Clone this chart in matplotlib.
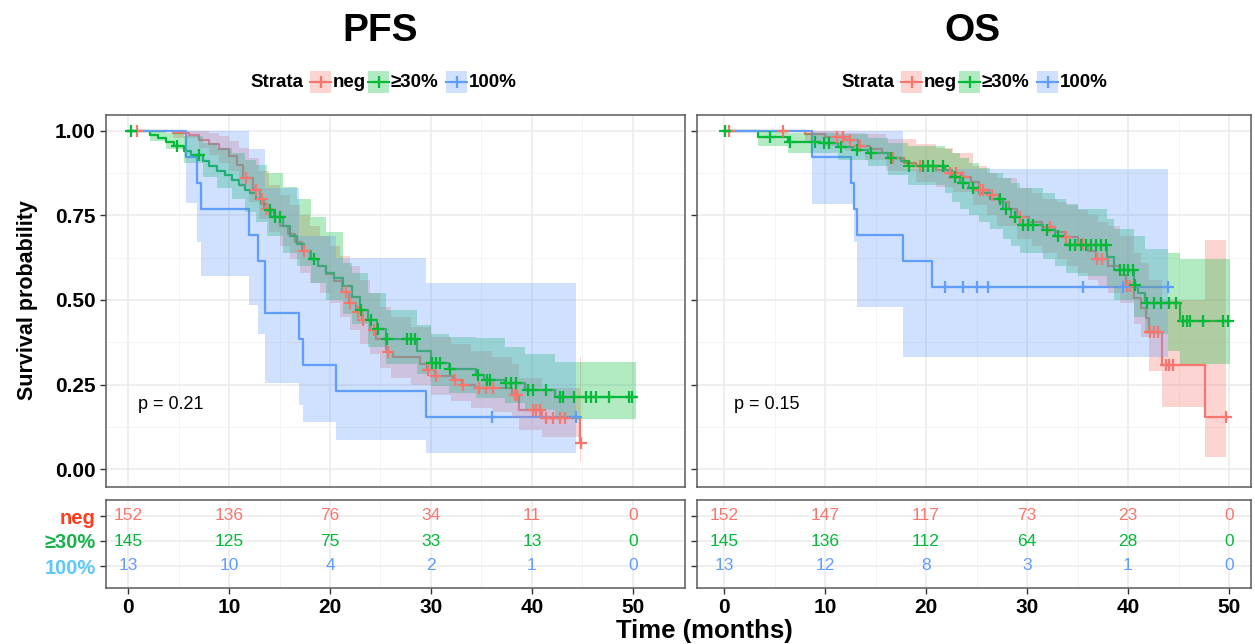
import numpy as np
import matplotlib
matplotlib.use('Agg')
import matplotlib.pyplot as plt
from matplotlib.patches import Rectangle
from matplotlib.lines import Line2D
from matplotlib import font_manager

plt.rcParams['font.family'] = ['Liberation Sans', 'DejaVu Sans']

# narrow face for tick labels and risk numbers, if it is there
names = {f.name for f in font_manager.fontManager.ttflist}
NARROW = 'Liberation Sans Narrow' in names
NFAM = ['Liberation Sans Narrow', 'Liberation Sans'] if NARROW else ['Liberation Sans']

RED = '#F8766D'
GREEN = '#00BA38'
BLUE = '#619CFF'

# ---------------- PFS data ----------------
pfs_neg_t = [0, 4.5, 6.0, 7.0, 8.0, 9.0, 10.0, 10.8, 11.4, 12.4, 13.1, 13.5, 14.2, 15.0, 15.8, 16.5,
             17.2, 18.0, 18.8, 19.6, 20.4, 21.2, 21.9, 22.6, 23.2, 24.0, 24.6, 25.5, 26.2, 28.9, 29.6,
             30.4, 32.2, 33.1, 34.4, 38.0, 38.7, 41.0, 44.8]
pfs_neg_s = [1.0, 0.993, 0.987, 0.974, 0.96, 0.945, 0.925, 0.9, 0.86, 0.825, 0.80, 0.77, 0.745, 0.72,
             0.695, 0.67, 0.645, 0.62, 0.60, 0.578, 0.555, 0.525, 0.49, 0.465, 0.44, 0.41, 0.385, 0.345,
             0.33, 0.31, 0.293, 0.275, 0.262, 0.248, 0.24, 0.218, 0.175, 0.152, 0.077]
pfs_neg_end = 44.9
pfs_neg_cens = [0.9, 11.7, 12.7, 13.3, 13.8, 17.4, 21.6, 22.0, 22.8, 23.3, 24.4, 25.7, 29.7, 30.5, 32.4,
                33.2, 34.8, 35.4, 36.1, 38.3, 38.5, 40.1, 40.4, 40.8, 41.4, 42.1, 42.8, 43.3, 44.9]
pfs_neg_band_t = [0, 4.5, 7, 8, 9, 10, 11, 12, 13, 14, 15, 16, 17, 18, 19, 20, 21, 22, 23, 24, 25, 26,
                  28, 30, 32, 34, 36, 38, 38.7, 41, 44.8]
pfs_neg_lo = [1.0, 0.98, 0.95, 0.93, 0.905, 0.88, 0.835, 0.79, 0.74, 0.70, 0.66, 0.62, 0.58, 0.55, 0.52,
              0.49, 0.45, 0.41, 0.37, 0.34, 0.30, 0.27, 0.25, 0.22, 0.20, 0.18, 0.17, 0.15, 0.115, 0.095,
              0.02]
pfs_neg_hi = [1.0, 1.0, 1.0, 0.995, 0.985, 0.97, 0.95, 0.92, 0.88, 0.84, 0.81, 0.78, 0.75, 0.72, 0.69,
              0.66, 0.63, 0.60, 0.56, 0.52, 0.48, 0.45, 0.42, 0.39, 0.37, 0.35, 0.33, 0.31, 0.27, 0.24,
              0.33]

pfs_pos_t = [0, 2.2, 3.0, 3.8, 4.6, 5.5, 6.2, 7.4, 8.0, 8.8, 9.6, 10.3, 11.0, 11.6, 12.1, 12.7, 13.2,
             13.8, 14.5, 15.3, 16.0, 16.7, 17.4, 18.1, 18.8, 19.6, 20.4, 21.3, 22.2, 23.0, 23.8, 24.7,
             25.5, 28.6, 30.0, 31.8, 34.5, 35.2, 37.3, 39.3, 42.3]
pfs_pos_s = [1.0, 0.988, 0.978, 0.968, 0.955, 0.94, 0.93, 0.91, 0.895, 0.88, 0.87, 0.855, 0.84, 0.825,
             0.815, 0.80, 0.785, 0.765, 0.745, 0.72, 0.69, 0.665, 0.645, 0.62, 0.60, 0.58, 0.565, 0.54,
             0.51, 0.47, 0.44, 0.415, 0.385, 0.35, 0.315, 0.295, 0.278, 0.263, 0.254, 0.234, 0.213]
pfs_pos_end = 50.3
pfs_pos_cens = [0.3, 4.9, 7.0, 14.1, 14.6, 15.0, 18.4, 23.1, 24.1, 24.8, 25.6, 27.6, 28.0, 28.4, 30.1,
                30.5, 30.9, 31.9, 34.7, 35.5, 35.8, 37.4, 37.9, 38.4, 39.6, 40.1, 41.4, 42.8, 43.1, 44.2,
                45.3, 45.8, 46.3, 47.6, 49.6, 49.9]
pfs_pos_band_t = [0, 2.2, 3.8, 5.5, 7.4, 8.8, 10.3, 11.6, 12.7, 13.8, 15.3, 16.7, 18.1, 19.6, 21.3,
                  22.2, 23.8, 25.5, 28.6, 30.0, 31.8, 34.5, 37.3, 39.3, 42.3]
pfs_pos_lo = [1.0, 0.97, 0.945, 0.905, 0.865, 0.83, 0.80, 0.76, 0.73, 0.69, 0.64, 0.60, 0.55, 0.50, 0.46,
              0.43, 0.36, 0.31, 0.28, 0.245, 0.225, 0.21, 0.195, 0.175, 0.148]
pfs_pos_hi = [1.0, 1.0, 0.995, 0.985, 0.965, 0.95, 0.935, 0.915, 0.90, 0.875, 0.835, 0.80, 0.745, 0.70,
              0.61, 0.58, 0.52, 0.47, 0.426, 0.40, 0.39, 0.388, 0.36, 0.34, 0.317]

pfs_all_t = [0, 5.7, 6.8, 7.2, 12.0, 12.9, 13.6, 16.9, 17.3, 20.6, 29.5]
pfs_all_s = [1.0, 0.923, 0.846, 0.769, 0.692, 0.615, 0.462, 0.385, 0.308, 0.231, 0.154]
pfs_all_end = 44.4
pfs_all_cens = [36.0, 44.4]
pfs_all_band_t = pfs_all_t
pfs_all_lo = [1.0, 0.787, 0.67, 0.57, 0.485, 0.40, 0.255, 0.19, 0.14, 0.086, 0.048]
pfs_all_hi = [1.0, 1.0, 1.0, 1.0, 0.947, 0.947, 0.83, 0.69, 0.69, 0.624, 0.55]

# ---------------- OS data ----------------
os_neg_t = [0, 8.0, 10.0, 12.0, 13.3, 14.5, 15.6, 16.5, 17.8, 19.0, 21.0, 22.2, 23.5, 24.5, 25.2, 26.2,
            27.2, 28.2, 29.0, 30.2, 31.5, 32.8, 33.8, 35.0, 36.0, 36.8, 38.0, 39.2, 39.8, 40.6, 41.3,
            41.8, 42.1, 43.4, 47.6]
os_neg_s = [1.0, 0.99, 0.982, 0.973, 0.955, 0.945, 0.935, 0.92, 0.905, 0.895, 0.885, 0.875, 0.865, 0.85,
            0.825, 0.81, 0.79, 0.77, 0.745, 0.73, 0.717, 0.70, 0.687, 0.665, 0.645, 0.62, 0.60, 0.575,
            0.54, 0.506, 0.476, 0.447, 0.406, 0.308, 0.155]
os_neg_end = 49.7
os_neg_cens = [0.5, 5.8, 11.2, 11.8, 12.5, 13.5, 16.7, 19.4, 22.4, 23.0, 23.7, 25.3, 25.6, 26.5, 29.3,
               32.3, 33.9, 35.5, 36.9, 37.4, 39.9, 40.2, 42.2, 42.6, 43.0, 43.8, 44.1, 44.5, 49.7]
os_neg_band_t = [0, 8, 10, 12, 14, 16, 19, 21, 22.7, 24.7, 26, 27, 29, 30.5, 31.5, 33, 34, 35, 36,
                 37, 38, 39.2, 40.6, 41.3, 42.1, 43.4, 47.6]
os_neg_lo = [1.0, 0.97, 0.955, 0.94, 0.915, 0.88, 0.85, 0.835, 0.82, 0.78, 0.75, 0.72, 0.68, 0.66, 0.64,
             0.62, 0.60, 0.58, 0.56, 0.54, 0.52, 0.49, 0.43, 0.39, 0.29, 0.185, 0.037]
os_neg_hi = [1.0, 1.0, 1.0, 0.995, 0.99, 0.975, 0.96, 0.95, 0.935, 0.895, 0.875, 0.86, 0.83, 0.815,
             0.80, 0.79, 0.78, 0.765, 0.75, 0.73, 0.72, 0.69, 0.64, 0.61, 0.56, 0.50, 0.678]

os_pos_t = [0, 3.4, 6.3, 9.5, 11.3, 12.8, 14.3, 16.2, 17.5, 18.2, 21.9, 22.6, 23.4, 24.3, 25.2, 26.3,
            27.6, 28.4, 29.3, 31.6, 32.8, 33.9, 37.9, 38.6, 40.6, 41.0, 41.7, 45.1]
os_pos_s = [1.0, 0.983, 0.968, 0.963, 0.953, 0.944, 0.935, 0.92, 0.91, 0.897, 0.885, 0.865, 0.845, 0.83,
            0.815, 0.80, 0.77, 0.745, 0.722, 0.707, 0.69, 0.663, 0.628, 0.589, 0.544, 0.52, 0.49, 0.437]
os_pos_end = 50.1
os_pos_cens = [0.1, 4.6, 6.5, 9.0, 9.9, 10.4, 11.6, 13.2, 14.6, 16.5, 18.3, 19.7, 20.2, 20.7, 21.7, 22.9,
               23.7, 24.7, 27.3, 27.9, 28.8, 29.6, 30.1, 30.6, 32.0, 33.1, 34.3, 34.8, 35.3, 35.8, 36.3,
               36.8, 37.3, 37.8, 39.2, 39.6, 40.0, 40.5, 40.7, 41.9, 42.6, 43.3, 44.1, 44.8, 45.4, 45.8,
               46.1, 47.4, 49.4, 49.9]
os_pos_band_t = [0, 3.4, 6.3, 11.3, 14.3, 16.2, 18.2, 21.9, 22.6, 23.4, 24.3, 25.2, 26.3, 27.6, 28.4,
                 29.3, 31.6, 32.8, 33.9, 35.0, 37.9, 38.6, 40.6, 41.7, 44.0, 45.1]
os_pos_lo = [1.0, 0.955, 0.935, 0.915, 0.895, 0.87, 0.84, 0.815, 0.79, 0.77, 0.75, 0.73, 0.71, 0.68,
             0.66, 0.64, 0.62, 0.60, 0.58, 0.57, 0.54, 0.50, 0.45, 0.40, 0.35, 0.31]
os_pos_hi = [1.0, 1.0, 0.995, 0.99, 0.98, 0.965, 0.955, 0.945, 0.935, 0.92, 0.905, 0.89, 0.875, 0.86,
             0.845, 0.83, 0.815, 0.80, 0.785, 0.77, 0.74, 0.71, 0.69, 0.65, 0.64, 0.62]

os_all_t = [0, 8.7, 12.6, 12.9, 13.2, 17.7, 20.6]
os_all_s = [1.0, 0.923, 0.846, 0.769, 0.692, 0.615, 0.538]
os_all_end = 44.0
os_all_cens = [21.9, 23.7, 25.0, 26.1, 35.5, 39.5, 44.0]
os_all_band_t = os_all_t
os_all_lo = [1.0, 0.784, 0.784, 0.67, 0.48, 0.33, 0.33]
os_all_hi = [1.0, 1.0, 1.0, 1.0, 1.0, 0.887, 0.887]

# ---------------- risk tables ----------------
risk_times = [0, 10, 20, 30, 40, 50]
strata = ['neg', '\u226530%', '100%']
pfs_risk_neg = [152, 136, 76, 34, 11, 0]
pfs_risk_pos = [145, 125, 75, 33, 13, 0]
pfs_risk_all = [13, 10, 4, 2, 1, 0]
os_risk_neg = [152, 147, 117, 73, 23, 0]
os_risk_pos = [145, 136, 112, 64, 28, 0]
os_risk_all = [13, 12, 8, 3, 1, 0]

pfs_p = 'p = 0.21'
os_p = 'p = 0.15'

W, H = 1255, 644
COLS = [RED, GREEN, BLUE]
LABEL_COLS = ['#FF3D1F', '#17B24A', '#5BC8F7']


def box(x0, y0, x1, y1):
    return [x0 / W, 1 - y1 / H, (x1 - x0) / W, (y1 - y0) / H]


def style(ax):
    for sp in ax.spines.values():
        sp.set_color('#5a5a5a')
        sp.set_linewidth(1.1)
    ax.set_axisbelow(True)
    ax.grid(True, which='major', color='#EBEBEB', lw=1.1)
    ax.grid(True, which='minor', color='#F2F2F2', lw=0.6)
    ax.tick_params(which='minor', length=0)
    ax.tick_params(which='major', length=4, width=1, color='#333333')


def draw_curve(ax, t, s, end, cens, bt, lo, hi, col):
    tt = list(t) + [end]
    ss = list(s) + [s[-1]]
    ax.step(tt, ss, where='post', color=col, lw=1.6, zorder=2)
    bx = list(bt) + [end]
    ax.fill_between(bx, list(lo) + [lo[-1]], list(hi) + [hi[-1]], step='post',
                    color=col, alpha=0.3, lw=0, zorder=3)
    idx = np.searchsorted(np.array(t), np.array(cens), side='right') - 1
    cy = np.array(s)[idx]
    ax.plot(cens, cy, ls='none', marker='+', ms=9, mew=1.6, color=col, zorder=4)


def km_panel(rect, xl, curves, ptext, show_labels):
    ax = fig.add_axes(rect)
    for c, col in zip(curves, COLS):
        draw_curve(ax, *c, col)
    ax.set_xlim(*xl)
    ax.set_ylim(-0.053, 1.047)
    ax.set_xticks(risk_times)
    ax.set_xticks([5, 15, 25, 35, 45], minor=True)
    ax.set_yticks([0, 0.25, 0.5, 0.75, 1.0])
    ax.set_yticks([0.125, 0.375, 0.625, 0.875], minor=True)
    style(ax)
    ax.tick_params(axis='x', which='major', length=0, labelbottom=False)
    if show_labels:
        ax.set_yticklabels(['0.00', '0.25', '0.50', '0.75', '1.00'], fontsize=15, fontweight='bold')
    else:
        ax.set_yticklabels([])
    ax.text(1.0, 0.19, ptext, fontsize=13, va='center', ha='left')
    return ax


def risk_panel(rect, xl, rows, show_labels):
    ax = fig.add_axes(rect)
    ys = [3, 2, 1]
    for vals, y, col in zip(rows, ys, COLS):
        for x, v in zip(risk_times, vals):
            ax.text(x, y, str(v), color=col, fontsize=14 if NARROW else 12.5, family=NFAM,
                    ha='center', va='center')
    ax.set_xlim(*xl)
    ax.set_ylim(0.12, 3.64)
    ax.set_xticks(risk_times)
    ax.set_xticks([5, 15, 25, 35, 45], minor=True)
    ax.set_yticks(ys)
    style(ax)
    ax.set_xticklabels([str(v) for v in risk_times], fontsize=17 if NARROW else 15,
                       fontweight='bold', family=NFAM)
    if show_labels:
        ax.set_yticklabels(strata, fontsize=16.5 if NARROW else 14.5, fontweight='bold', family=NFAM)
        for lab, c in zip(ax.get_yticklabels(), LABEL_COLS):
            lab.set_color(c)
    else:
        ax.set_yticklabels([])
    return ax


fig = plt.figure(figsize=(W / 100, H / 100), dpi=100)

xl_left = (-(128 - 106) / 10.1, (685 - 128) / 10.1)
xl_right = (-(724 - 697) / 10.1, (1251 - 724) / 10.1)

pfs_curves = [
    (pfs_neg_t, pfs_neg_s, pfs_neg_end, pfs_neg_cens, pfs_neg_band_t, pfs_neg_lo, pfs_neg_hi),
    (pfs_pos_t, pfs_pos_s, pfs_pos_end, pfs_pos_cens, pfs_pos_band_t, pfs_pos_lo, pfs_pos_hi),
    (pfs_all_t, pfs_all_s, pfs_all_end, pfs_all_cens, pfs_all_band_t, pfs_all_lo, pfs_all_hi),
]
os_curves = [
    (os_neg_t, os_neg_s, os_neg_end, os_neg_cens, os_neg_band_t, os_neg_lo, os_neg_hi),
    (os_pos_t, os_pos_s, os_pos_end, os_pos_cens, os_pos_band_t, os_pos_lo, os_pos_hi),
    (os_all_t, os_all_s, os_all_end, os_all_cens, os_all_band_t, os_all_lo, os_all_hi),
]

km_panel(box(106, 115, 685, 487), xl_left, pfs_curves, pfs_p, True)
km_panel(box(697, 115, 1251, 487), xl_right, os_curves, os_p, False)
risk_panel(box(106, 500, 685, 588), xl_left, [pfs_risk_neg, pfs_risk_pos, pfs_risk_all], True)
risk_panel(box(697, 500, 1251, 588), xl_right, [os_risk_neg, os_risk_pos, os_risk_all], False)

# overlay in pixel coordinates for titles, legends and shared labels
ov = fig.add_axes([0, 0, 1, 1], facecolor='none')
ov.set_xlim(0, W)
ov.set_ylim(H, 0)
ov.axis('off')

ov.text(380, 31, 'PFS', fontsize=28, fontweight='bold', ha='center', va='center')
ov.text(972, 31, 'OS', fontsize=28, fontweight='bold', ha='center', va='center')
ov.text(28, 300, 'Survival probability', fontsize=15.5, fontweight='bold', rotation=90,
        ha='center', va='center')
ov.text(704, 631, 'Time (months)', fontsize=18.5, fontweight='bold', ha='center', va='center')

# legends
for x0 in [250, 841]:
    ov.text(x0, 82, 'Strata', fontsize=13.5, fontweight='bold', ha='left', va='center')
    for dx, lab, col in zip([60, 118, 196], strata, COLS):
        bx = x0 + dx
        ov.add_patch(Rectangle((bx, 71), 21, 22, facecolor=col, alpha=0.3, lw=0))
        ov.add_line(Line2D([bx, bx + 21], [82, 82], color=col, lw=1.5))
        ov.plot([bx + 10.5], [82], marker='+', ms=9, mew=1.6, color=col)
        ov.text(bx + 23, 82, lab, fontsize=13.5, fontweight='bold', ha='left', va='center')

fig.savefig('out.png', dpi=100)
